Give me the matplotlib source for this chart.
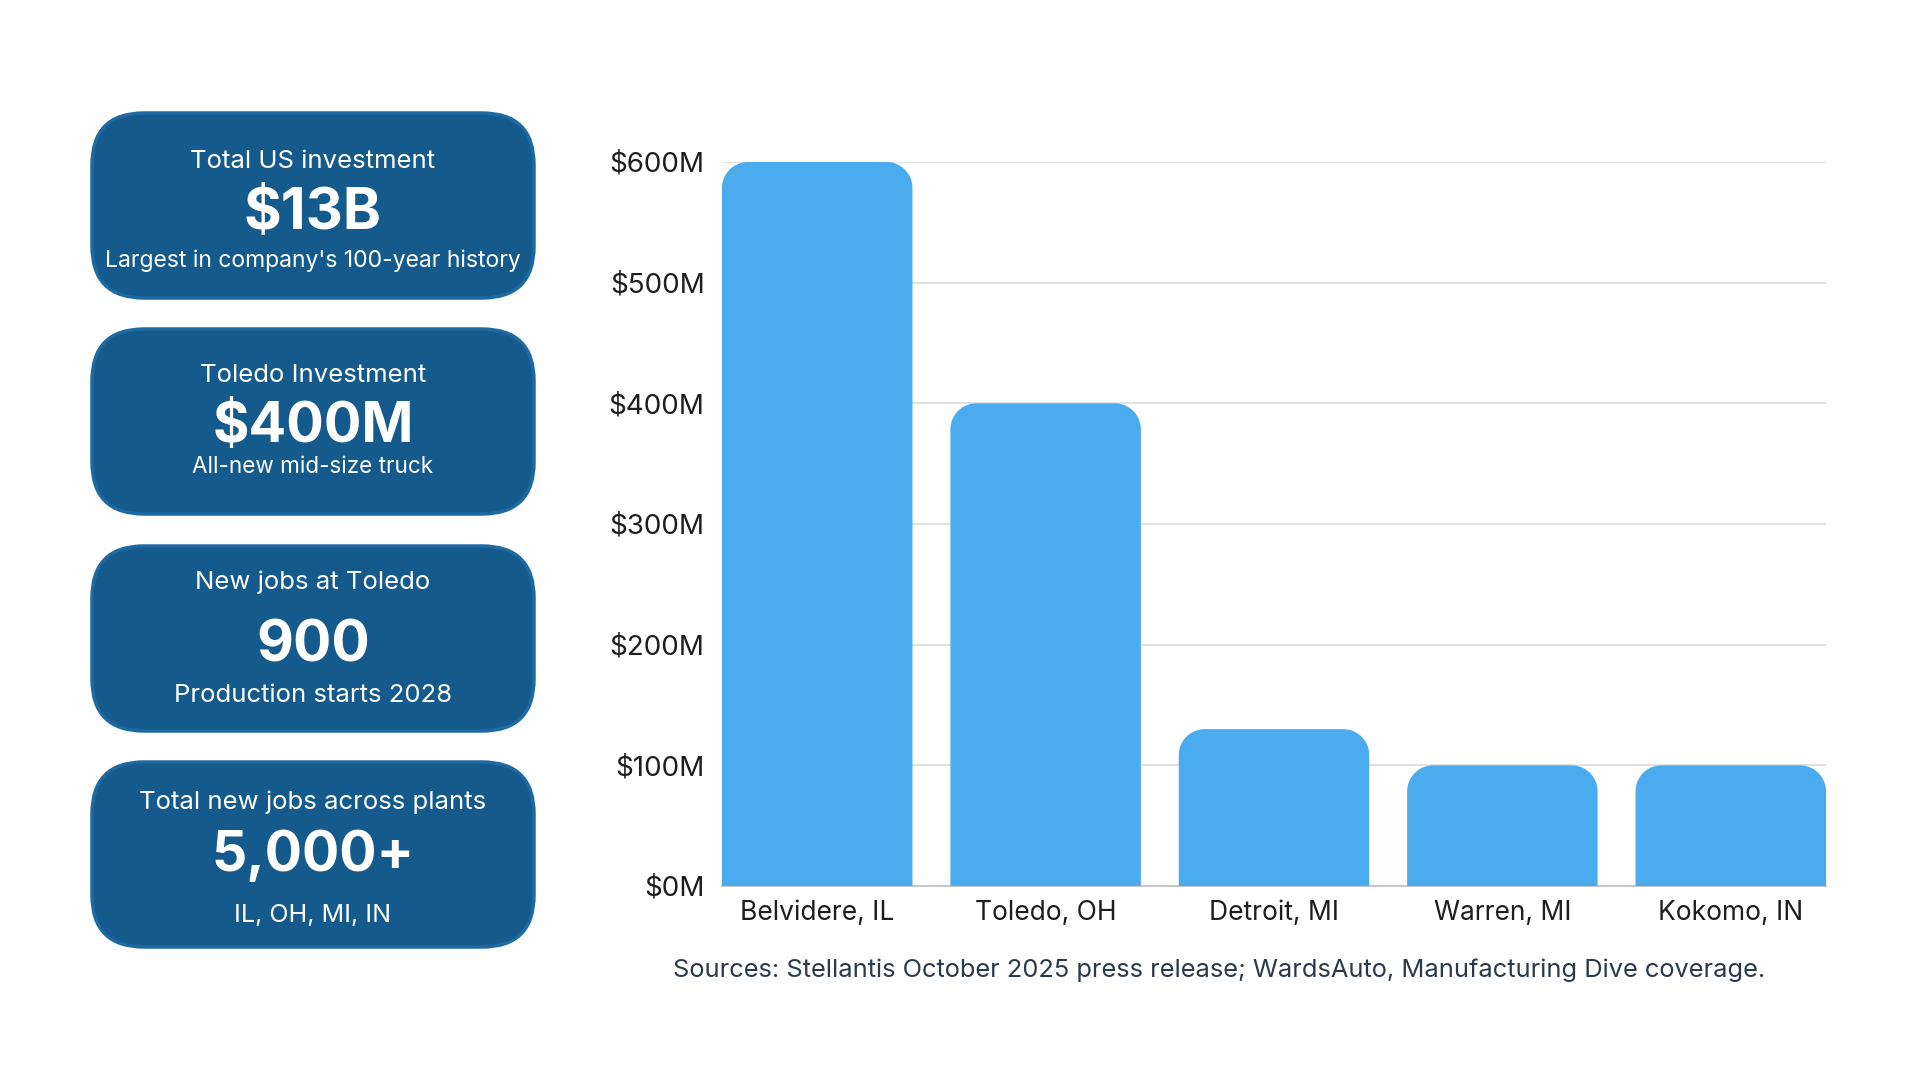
import numpy as np
import matplotlib
matplotlib.use("Agg")
import matplotlib.pyplot as plt
from matplotlib.patches import FancyBboxPatch, PathPatch
from matplotlib.path import Path
from matplotlib.transforms import IdentityTransform

# ---------------- data ----------------
plants = ["Belvidere, IL", "Toledo, OH", "Detroit, MI", "Warren, MI", "Kokomo, IN"]
investment_musd = [600, 400, 130, 100, 100]
y_ticks = [0, 100, 200, 300, 400, 500, 600]
y_tick_labels = ["$0M", "$100M", "$200M", "$300M", "$400M", "$500M", "$600M"]

card_titles = ["Total US investment", "Toledo Investment", "New jobs at Toledo",
               "Total new jobs across plants"]
card_values = ["$13B", "$400M", "900", "5,000+"]
card_notes = ["Largest in company's 100-year history", "All-new mid-size truck",
              "Production starts 2028", "IL, OH, MI, IN"]
source_text = "Sources: Stellantis October 2025 press release; WardsAuto, Manufacturing Dive coverage."

FONT = "Inter"
plt.rcParams["font.family"] = [FONT, "DejaVu Sans"]

W, H = 1920, 1080
fig = plt.figure(figsize=(W / 100, H / 100), dpi=100)
fig.patch.set_facecolor("white")

# ---------------- bar chart ----------------
ax_l, ax_r, ax_t, ax_b = 722, 1826, 162, 886
ax = fig.add_axes([ax_l / W, 1 - ax_b / H, (ax_r - ax_l) / W, (ax_b - ax_t) / H])
ax.set_facecolor("none")
x = np.arange(len(plants))
bw = 0.834
bars = ax.bar(x, investment_musd, width=bw, color="#4aabee", zorder=3)
ax.set_xlim(-bw / 2, len(plants) - 1 + bw / 2)
ax.set_ylim(0, 600)
ax.set_yticks(y_ticks)
ax.set_yticklabels(y_tick_labels)
ax.set_xticks(x)
ax.set_xticklabels(plants)
ax.tick_params(axis="y", length=0, pad=12.5, labelsize=20, labelcolor="#1e1e1e")
ax.tick_params(axis="x", length=0, pad=10, labelsize=19, labelcolor="#1e1e1e")
for s in ["top", "right", "left"]:
    ax.spines[s].set_visible(False)
ax.spines["bottom"].set_color("#c8c8c8")
ax.spines["bottom"].set_linewidth(1.5)
ax.spines["bottom"].set_zorder(4)
ax.yaxis.grid(True, color="#dedede", linewidth=1.3, zorder=0)
ax.set_axisbelow(True)

# replace bars with rounded-top versions (display coordinates)
radius = 26
for b in bars:
    x0, y0 = b.get_x(), b.get_y()
    x1, y1 = x0 + b.get_width(), y0 + b.get_height()
    (px0, py0), (px1, py1) = ax.transData.transform([(x0, y0), (x1, y1)])
    r = min(radius, (px1 - px0) / 2, (py1 - py0))
    pts = [(px0, py0)]
    a = np.linspace(np.pi, np.pi / 2, 20)
    pts += list(zip(px0 + r + r * np.cos(a), py1 - r + r * np.sin(a)))
    a = np.linspace(np.pi / 2, 0, 20)
    pts += list(zip(px1 - r + r * np.cos(a), py1 - r + r * np.sin(a)))
    pts += [(px1, py0), (px0, py0)]
    codes = [Path.MOVETO] + [Path.LINETO] * (len(pts) - 2) + [Path.CLOSEPOLY]
    patch = PathPatch(Path(pts, codes), facecolor=b.get_facecolor(), edgecolor="none",
                      transform=IdentityTransform(), zorder=3)
    fig.add_artist(patch)
    b.set_visible(False)

# ---------------- overlay for cards & text ----------------
ov = fig.add_axes([0, 0, 1, 1], zorder=5)
ov.set_xlim(0, W)
ov.set_ylim(H, 0)
ov.axis("off")
ov.patch.set_alpha(0)

card_x0, card_x1 = 92, 534
card_tops = [113, 329, 546, 762]
card_h = 185
title_off = [48, 46, 36, 40]
value_off = [101, 98, 100, 94]
note_off = [148, 138, 150, 153]
title_size = [18.5, 18.5, 18.5, 18.5]
value_size = [41.5, 40.2, 41, 39.8]
note_size = [16.5, 16.2, 18.5, 18]
for i in range(4):
    top = card_tops[i]
    box = FancyBboxPatch((card_x0, top), card_x1 - card_x0, card_h,
                         boxstyle="round,pad=0,rounding_size=52",
                         facecolor="#155a8c", edgecolor="#1d6aa3", linewidth=2.5)
    ov.add_patch(box)
    cx = (card_x0 + card_x1) / 2
    ov.text(cx, top + title_off[i], card_titles[i], ha="center", va="center",
            color="white", fontsize=title_size[i])
    ov.text(cx, top + value_off[i], card_values[i], ha="center", va="center",
            color="white", fontsize=value_size[i], fontweight="bold")
    ov.text(cx, top + note_off[i], card_notes[i], ha="center", va="center",
            color="white", fontsize=note_size[i])

ov.text(1219, 970, source_text, ha="center", va="center", color="#2a3a4a", fontsize=18.3)

fig.savefig("out.png", dpi=100)
